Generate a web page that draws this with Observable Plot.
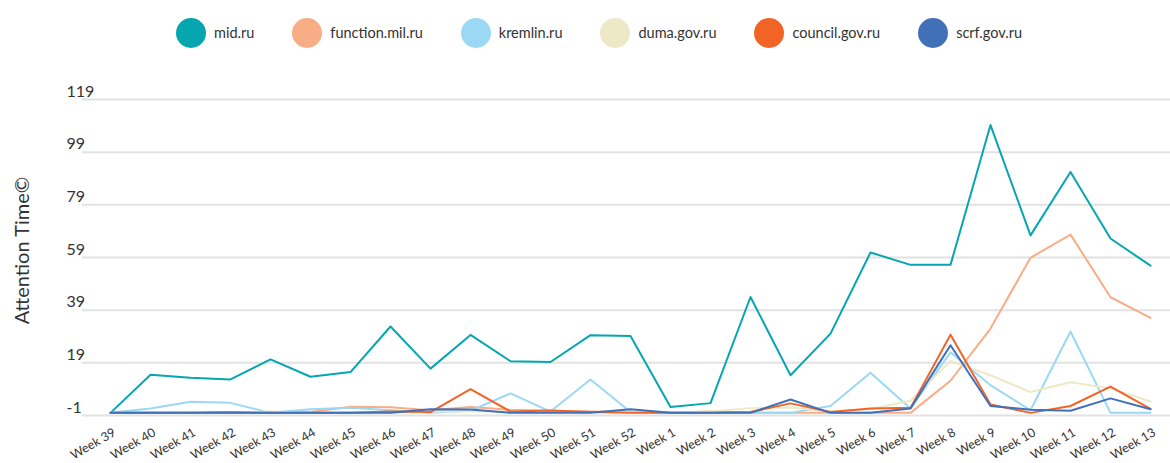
<!DOCTYPE html>
<html>
<head>
<meta charset="utf-8">
<script src="https://cdn.jsdelivr.net/npm/d3@7"></script>
<script src="https://cdn.jsdelivr.net/npm/@observablehq/plot@0.6"></script>
<style>
  html, body { margin: 0; padding: 0; background: #fff; }
  body { width: 1170px; height: 463px; overflow: hidden; font-family: Lato, "Open Sans", sans-serif; }
  #legend { height: 65px; display: flex; justify-content: center; align-items: center; gap: 38px; padding-left: 28px; box-sizing: border-box; }
  .item { display: flex; align-items: center; gap: 8px; font-size: 14.5px; color: #333; }
  .sw { width: 30px; height: 30px; border-radius: 50%; }
  #chart svg { display: block; overflow: visible; }
</style>
</head>
<body>
<div id="legend"></div>
<div id="chart"></div>
<script>
const weeks = ["Week 39","Week 40","Week 41","Week 42","Week 43","Week 44","Week 45","Week 46","Week 47","Week 48","Week 49","Week 50","Week 51","Week 52","Week 1","Week 2","Week 3","Week 4","Week 5","Week 6","Week 7","Week 8","Week 9","Week 10","Week 11","Week 12","Week 13"];
const sites = ["mid.ru","function.mil.ru","kremlin.ru","duma.gov.ru","council.gov.ru","scrf.gov.ru"];
const colors = ["#06a6b1","#f8ad86","#9bd8f4","#ede9c7","#f26426","#3f70b8"];
const yTicks = [-1, 19, 39, 59, 79, 99, 119];

const midRu     = [0, 14.5, 13.3, 12.7, 20.3, 13.7, 15.5, 32.8, 16.8, 29.6, 19.6, 19.3, 29.5, 29.2, 2.2, 3.7, 44, 14.3, 30.1, 60.9, 56.2, 56.2, 109.3, 67.4, 91.5, 66.2, 55.9];
const functionMil = [0, 0, 0, 0.3, 0, 0.3, 2.3, 2.1, 1, 2.2, 1.2, 0.8, 0.5, 0.3, 0, 0.5, 0, 0, 0, 0, 0, 12.2, 32, 58.9, 67.7, 43.9, 36.1];
const kremlin   = [0, 1.7, 4.2, 3.8, 0, 1.4, 1.9, 1, 0, 0.8, 7.4, 0.5, 12.7, 0.3, 0, 0, 0, 0, 2.6, 15.2, 1.7, 23, 10.5, 1, 30.9, 0, 0];
const duma      = [0, 0, 0, 0, 0.5, 0, 0, 0, 0.5, 0.5, 0.5, 0.3, 0.3, 0.5, 0, 0.5, 1.8, 2, 0.5, 1.5, 4.6, 19.7, 14.3, 7.9, 11.6, 9.3, 4.3];
const council   = [0, 0, 0, 0.2, 0, 0, 0, 0.5, 0.3, 9, 0.5, 0.9, 0.3, 0, 0, 0, 0.3, 3.6, 0.3, 1.7, 1.9, 29.7, 3.2, 0, 2.6, 10, 1.5];
const scrf      = [0, 0, 0, 0, 0, 0, 0, 0, 1.4, 1.3, 0, 0, 0, 1.4, 0, 0, 0, 5.1, 0, 0, 1.7, 25.7, 2.6, 1.2, 0.8, 5.5, 1.4];

const series = [midRu, functionMil, kremlin, duma, council, scrf];
const data = [];
sites.forEach((s, i) => series[i].forEach((v, j) => data.push({site: s, week: weeks[j], value: v})));

// legend
const legend = document.getElementById("legend");
sites.forEach((s, i) => {
  const it = document.createElement("div");
  it.className = "item";
  const sw = document.createElement("div");
  sw.className = "sw";
  sw.style.background = colors[i];
  const t = document.createElement("span");
  t.textContent = s;
  it.appendChild(sw); it.appendChild(t);
  legend.appendChild(it);
});

const chart = Plot.plot({
  width: 1170,
  height: 398,
  marginLeft: 82,
  marginRight: 0,
  marginTop: 34,
  marginBottom: 48,
  style: {fontFamily: "Lato, 'Open Sans', sans-serif", color: "#333", background: "#fff"},
  x: {type: "point", domain: weeks, padding: 0, insetLeft: 20.7, insetRight: 12.7},
  y: {domain: [-1, 119]},
  color: {domain: sites, range: colors},
  marks: [
    Plot.ruleY(yTicks, {stroke: "#e2e2e2", strokeWidth: 2}),
    Plot.axisY({ticks: yTicks, tickFormat: d => String(d), tickSize: 0, tickPadding: 0, textAnchor: "start", dx: -16, dy: -8, fontSize: 16, fill: "#333", label: null}),
    Plot.axisX({tickSize: 0, tickRotate: -30, tickPadding: 0, dx: 4, dy: 16, fontSize: 12.5, fill: "#333", label: null}),
    Plot.lineY(data, {x: "week", y: "value", z: "site", stroke: "site", strokeWidth: 2}),
    Plot.text(["Attention Time©"], {text: d => d, frameAnchor: "left", textAnchor: "middle", rotate: -90, dx: -60, dy: -7, fontSize: 20, fill: "#333"})
  ]
});
document.getElementById("chart").appendChild(chart);
</script>
</body>
</html>
